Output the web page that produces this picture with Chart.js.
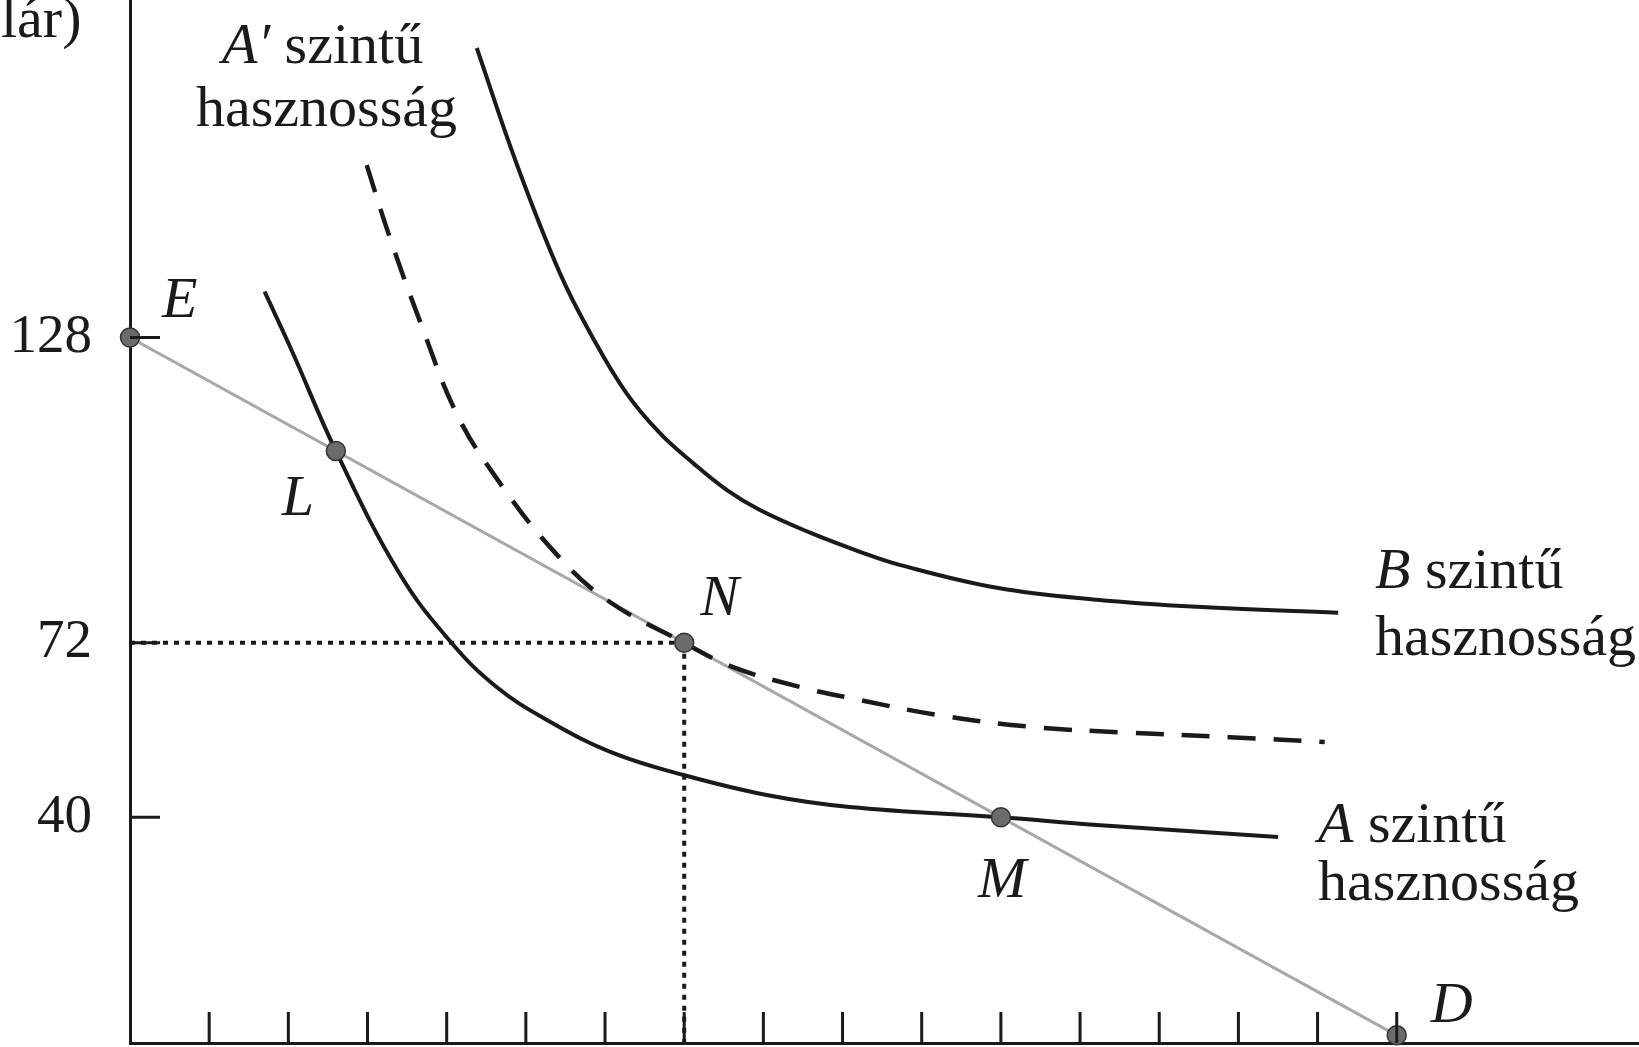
<!DOCTYPE html>
<html>
<head>
<meta charset="utf-8">
<script src="https://cdn.jsdelivr.net/npm/chart.js@4.4.1/dist/chart.umd.min.js"></script>
<style>
  html, body { margin: 0; padding: 0; background: #fff; }
  canvas { display: block; }
</style>
</head>
<body>
<canvas id="chart" width="1639" height="1047"></canvas>
<script>
// költségvetési egyenes E-től D-ig
const budgetX = [0, 16];
const budgetY = [128, 0];

// jelölt pontok
const pointNames = ['E', 'L', 'N', 'M', 'D'];
const pointX = [0, 2.6, 7, 11, 16];
const pointY = [128, 107.2, 72, 40, 0];

// A szintű hasznosság (folytonos, alsó)
const curveAX = [1.70, 2.04, 2.6, 3.40, 4.06, 4.63, 5.26, 6.10, 6.98, 8.04, 9.09, 11, 12.21, 14.50];
const curveAY = [136.4, 125.7, 107.2, 84.8, 72.0, 63.9, 57.9, 51.8, 47.8, 44.1, 41.9, 40, 38.6, 36.4];

// A' szintű hasznosság (szaggatott)
const curveA2X = [2.99, 3.28, 3.68, 4.12, 4.60, 5.34, 6.02, 7, 7.61, 8.46, 9.09, 10.19, 11.37, 12.63, 13.89, 15.09];
const curveA2Y = [159.6, 146.4, 130.3, 114.2, 102.8, 89.0, 79.9, 72, 67.6, 63.9, 61.9, 58.8, 56.6, 55.5, 54.7, 53.8];

// B szintű hasznosság (folytonos, felső)
const curveBX = [4.38, 4.88, 5.43, 5.84, 6.27, 6.69, 7.11, 7.54, 7.95, 8.59, 9.22, 9.72, 10.95, 12.21, 13.48, 15.26];
const curveBY = [181.1, 160.0, 139.8, 128.1, 117.8, 110.5, 105.0, 100.0, 96.4, 92.2, 88.7, 86.3, 82.1, 79.9, 78.6, 77.5];

// tengely jelölések
const yTicks = [128, 72, 40];
const xTicks = [1, 2, 3, 4, 5, 6, 7, 8, 9, 10, 11, 12, 13, 14, 15, 16];

const X_MIN = 0, X_MAX = 19.06;
const Y_MIN = -1.4, Y_MAX = 189.9;

const INK = '#1a1a1a';
const SERIF = '"Liberation Serif", "DejaVu Serif", serif';

const toXY = (xs, ys) => xs.map((x, i) => ({ x: x, y: ys[i] }));

// betűk eltolása a pontokhoz képest (px)
const pointLabelOffsets = [[32, -20], [-54, 64], [16, -28], [-23, 80], [34, -13]];

// görbék feliratai: [dőlt rész, álló rész, x, y alapvonal]
const curveLabels = [
    ['A\u2032', ' szintű', 222, 63],
    ['', 'hasznosság', 196, 126],
    ['B', ' szintű', 1375, 588],
    ['', 'hasznosság', 1375, 655],
    ['A', ' szintű', 1318, 842],
    ['', 'hasznosság', 1318, 900]
];

const decorations = {
    id: 'decorations',
    afterDraw(chart) {
        const ctx = chart.ctx;
        const xs = chart.scales.x;
        const ys = chart.scales.y;
        const area = chart.chartArea;

        ctx.save();
        ctx.strokeStyle = INK;
        ctx.lineWidth = 3;
        ctx.beginPath();
        // befelé mutató osztások
        xTicks.forEach(v => {
            const px = xs.getPixelForValue(v);
            ctx.moveTo(px, area.bottom);
            ctx.lineTo(px, area.bottom - 31);
        });
        yTicks.forEach(v => {
            const py = ys.getPixelForValue(v);
            ctx.moveTo(area.left, py);
            ctx.lineTo(area.left + 30, py);
        });
        ctx.stroke();

        ctx.fillStyle = INK;
        ctx.textBaseline = 'alphabetic';
        ctx.textAlign = 'left';

        // pontok betűi
        ctx.font = 'italic 58px ' + SERIF;
        pointNames.forEach((name, i) => {
            const px = xs.getPixelForValue(pointX[i]) + pointLabelOffsets[i][0];
            const py = ys.getPixelForValue(pointY[i]) + pointLabelOffsets[i][1];
            ctx.fillText(name, px, py);
        });

        // görbék feliratai
        curveLabels.forEach(([it, rest, x, y]) => {
            let cx = x;
            if (it) {
                ctx.font = 'italic 58px ' + SERIF;
                ctx.fillText(it, cx, y);
                cx += ctx.measureText(it).width;
            }
            ctx.font = '58px ' + SERIF;
            ctx.fillText(rest, cx, y);
        });

        // levágott tengelycím a bal felső sarokban
        ctx.font = '58px ' + SERIF;
        ctx.fillText('lár)', 1, 37);
        ctx.restore();
    }
};

new Chart(document.getElementById('chart'), {
    type: 'line',
    data: {
        datasets: [
            {
                label: 'pontok',
                data: toXY(pointX, pointY),
                showLine: false,
                pointRadius: 9.5,
                pointBackgroundColor: '#6b6b6b',
                pointBorderColor: '#333333',
                pointBorderWidth: 1.5,
                clip: false
            },
            {
                label: 'B szintű hasznosság',
                data: toXY(curveBX, curveBY),
                borderColor: INK,
                borderWidth: 4,
                pointRadius: 0,
                tension: 0.4
            },
            {
                label: "A' szintű hasznosság",
                data: toXY(curveA2X, curveA2Y),
                borderColor: INK,
                borderWidth: 4.5,
                borderDash: [28, 18],
                pointRadius: 0,
                tension: 0.4
            },
            {
                label: 'A szintű hasznosság',
                data: toXY(curveAX, curveAY),
                borderColor: INK,
                borderWidth: 4,
                pointRadius: 0,
                tension: 0.4
            },
            {
                label: 'segédvonal vízszintes',
                data: toXY([0, pointX[2]], [pointY[2], pointY[2]]),
                borderColor: INK,
                borderWidth: 4,
                borderDash: [5, 6],
                pointRadius: 0
            },
            {
                label: 'segédvonal függőleges',
                data: toXY([pointX[2], pointX[2]], [pointY[2], Y_MIN]),
                borderColor: INK,
                borderWidth: 4,
                borderDash: [5, 6],
                pointRadius: 0
            },
            {
                label: 'költségvetési egyenes',
                data: toXY(budgetX, budgetY),
                borderColor: '#a8a8a8',
                borderWidth: 3,
                pointRadius: 0
            }
        ]
    },
    options: {
        responsive: false,
        animation: false,
        devicePixelRatio: 1,
        layout: { autoPadding: false, padding: { left: 0, right: 0, top: 0, bottom: 4 } },
        plugins: {
            legend: { display: false },
            tooltip: { enabled: false }
        },
        scales: {
            x: {
                type: 'linear',
                min: X_MIN,
                max: X_MAX,
                ticks: { display: false },
                grid: { display: false, drawTicks: false },
                border: { display: true, color: INK, width: 3 },
                afterFit: (s) => {
                    s.height = 0;
                    s.paddingLeft = 0; s.paddingRight = 0;
                    s.paddingTop = 0; s.paddingBottom = 0;
                }
            },
            y: {
                type: 'linear',
                min: Y_MIN,
                max: Y_MAX,
                afterBuildTicks: (s) => { s.ticks = yTicks.map(v => ({ value: v })); },
                ticks: {
                    color: INK,
                    font: { family: SERIF, size: 55 },
                    padding: 38,
                    autoSkip: false,
                    callback: (v) => String(v)
                },
                grid: { display: false, drawTicks: false },
                border: { display: true, color: INK, width: 3 },
                afterFit: (s) => {
                    s.width = 130;
                    s.paddingTop = 0; s.paddingBottom = 0;
                    s.paddingLeft = 0; s.paddingRight = 0;
                }
            }
        }
    },
    plugins: [decorations]
});
</script>
</body>
</html>
